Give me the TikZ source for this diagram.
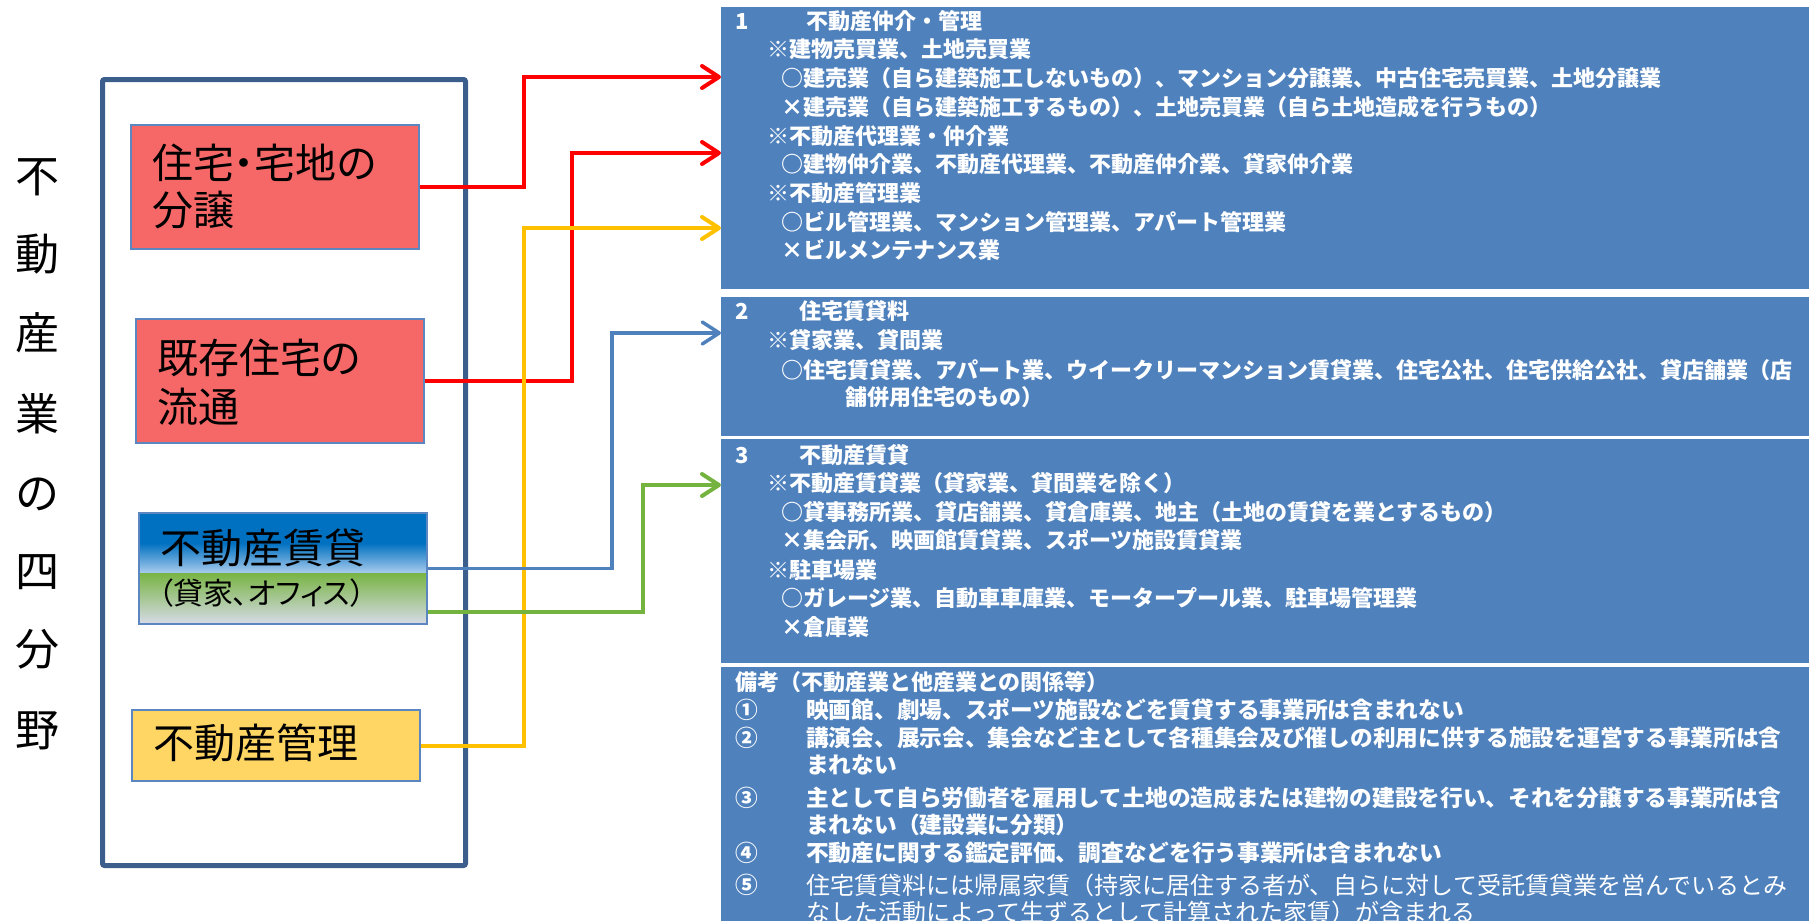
\documentclass[tikz,border=0pt]{standalone}
\usepackage{fontspec}
\setmainfont{Noto Sans CJK JP}
\newfontfamily\jpn{Noto Sans CJK JP}
\newfontfamily\jpp{Noto Sans CJK JP}[RawFeature=+palt]
\usetikzlibrary{arrows.meta}
\definecolor{panelblue}{HTML}{4F81BD}
\definecolor{framec}{HTML}{3B5E8C}
\definecolor{boxedge}{HTML}{5B86C0}
\definecolor{redfill}{RGB}{246,104,104}
\definecolor{yelfill}{RGB}{255,214,100}
\definecolor{connred}{HTML}{FF0000}
\definecolor{connyel}{HTML}{FFC000}
\definecolor{conngreen}{HTML}{74B340}
\definecolor{rentblue}{HTML}{0070C0}
\definecolor{rentlight}{HTML}{A8CCEE}
\definecolor{rentgreen}{HTML}{78B443}
\definecolor{rentgray}{HTML}{D5DAE5}
\begin{document}
\begin{tikzpicture}[x=1pt,y=-1pt,
  panel/.style={draw=none,fill=panelblue,anchor=north west,inner sep=0pt,minimum width=1088pt},
  ptxt/.style={anchor=west,inner sep=0pt,text=white,font=\jpn\bfseries\fontsize{22}{22}\selectfont,text height=19.4pt,text depth=2.6pt},
  ptxtb/.style={ptxt,font=\jpn\bfseries\fontsize{22.7}{22.7}\selectfont,text height=20pt,text depth=2.7pt},
  ptxtc/.style={ptxt,font=\jpn\fontsize{24}{24}\selectfont,text height=21.1pt,text depth=2.9pt},
  catbox/.style={draw=boxedge,line width=2pt,anchor=north west,inner sep=0pt,minimum width=288pt},
  lbl/.style={anchor=west,inner sep=0pt,text=black,font=\jpp\fontsize{41}{41}\selectfont,text height=36pt,text depth=5pt},
  sublbl/.style={anchor=west,inner sep=0pt,text=black,font=\jpp\fontsize{30}{30}\selectfont,text height=26.4pt,text depth=3.6pt},
  ttl/.style={inner sep=0pt,text=black,font=\jpn\fontsize{44}{44}\selectfont,text height=38.7pt,text depth=5.3pt},
  conn/.style={line width=4pt,-{Straight Barb[length=17pt,width=22pt,round]}},
]
\useasboundingbox (0,0) rectangle (1809,921);

% right panels
\node[panel,minimum height=282pt] (p1) at (721,7) {};
\node[panel,minimum height=139pt] (p2) at (721,297) {};
\node[panel,minimum height=224pt] (p3) at (721,439) {};
\node[panel,minimum height=254pt] (p4) at (721,667) {};

% panel 1 text
\node[ptxt] (p1a) at (735,21) {1};
\node[ptxt] (p1b) at (806,21) {不動産仲介・管理};
\node[ptxt] (p1c) at (767,49) {※建物売買業、土地売買業};
\node[ptxt] (p1d) at (781,78) {○建売業（自ら建築施工しないもの）、マンション分譲業、中古住宅売買業、土地分譲業};
\node[ptxt] (p1e) at (781,107) {×建売業（自ら建築施工するもの）、土地売買業（自ら土地造成を行うもの）};
\node[ptxt] (p1f) at (767,136) {※不動産代理業・仲介業};
\node[ptxt] (p1g) at (781,164) {○建物仲介業、不動産代理業、不動産仲介業、貸家仲介業};
\node[ptxt] (p1h) at (767,193) {※不動産管理業};
\node[ptxt] (p1i) at (781,222) {○ビル管理業、マンション管理業、アパート管理業};
\node[ptxt] (p1j) at (781,250) {×ビルメンテナンス業};

% panel 2 text
\node[ptxt] (p2a) at (735,311) {2};
\node[ptxt] (p2b) at (799,311) {住宅賃貸料};
\node[ptxt] (p2c) at (767,340) {※貸家業、貸間業};
\node[ptxt] (p2d) at (781,370) {○住宅賃貸業、アパート業、ウイークリーマンション賃貸業、住宅公社、住宅供給公社、貸店舗業（店};
\node[ptxt] (p2e) at (845,397) {舗併用住宅のもの）};

% panel 3 text
\node[ptxt] (p3a) at (735,455) {3};
\node[ptxt] (p3b) at (799,455) {不動産賃貸};
\node[ptxt] (p3c) at (767,483) {※不動産賃貸業（貸家業、貸間業を除く）};
\node[ptxt] (p3d) at (781,512) {○貸事務所業、貸店舗業、貸倉庫業、地主（土地の賃貸を業とするもの）};
\node[ptxt] (p3e) at (781,540) {×集会所、映画館賃貸業、スポーツ施設賃貸業};
\node[ptxt] (p3f) at (767,570) {※駐車場業};
\node[ptxt] (p3g) at (781,598) {○ガレージ業、自動車車庫業、モータープール業、駐車場管理業};
\node[ptxt] (p3h) at (781,627) {×倉庫業};

% panel 4 text
\node[ptxt] (p4a) at (735,682) {備考（不動産業と他産業との関係等）};
\node[ptxtb] (p4n1) at (735,710) {①};
\node[ptxtb] (p4t1) at (806,710) {映画館、劇場、スポーツ施設などを賃貸する事業所は含まれない};
\node[ptxtb] (p4n2) at (735,738) {②};
\node[ptxtb] (p4t2) at (806,738) {講演会、展示会、集会など主として各種集会及び催しの利用に供する施設を運営する事業所は含};
\node[ptxtb] (p4t2b) at (806,765) {まれない};
\node[ptxtb] (p4n3) at (735,798) {③};
\node[ptxtb] (p4t3) at (806,798) {主として自ら労働者を雇用して土地の造成または建物の建設を行い、それを分譲する事業所は含};
\node[ptxtb] (p4t3b) at (806,825) {まれない（建設業に分類）};
\node[ptxtb] (p4n4) at (735,853) {④};
\node[ptxtb] (p4t4) at (806,853) {不動産に関する鑑定評価、調査などを行う事業所は含まれない};
\node[ptxtb] (p4n5) at (735,885) {⑤};
\node[ptxtc] (p4t5) at (806,885) {住宅賃貸料には帰属家賃（持家に居住する者が、自らに対して受託賃貸業を営んでいるとみ};
\node[ptxtc] (p4t5b) at (806,912) {なした活動によって生ずるとして計算された家賃）が含まれる};

% vertical title
\foreach \c/\yy [count=\i] in {不/176,動/254,産/333,業/414,の/493,四/571,分/649,野/730}
  \node[ttl] (ttl\i) at (37,\yy) {\c};

% outer frame
\node[draw=framec,line width=5pt,rounded corners=2pt,anchor=north west,inner sep=0pt,
      minimum width=363pt,minimum height=786pt] (frame) at (100,77) {};

% category boxes
\node[catbox,fill=redfill,minimum height=124pt] (b1) at (130,124) {};
\node[lbl] (b1t1) at (152,163) {住宅・宅地の};
\node[lbl] (b1t2) at (152,210) {分譲};

\node[catbox,fill=redfill,minimum height=124pt] (b2) at (135,318) {};
\node[lbl] (b2t1) at (157,358) {既存住宅の};
\node[lbl] (b2t2) at (157,407) {流通};

\fill[rentblue] (138,512) rectangle (426,543);
\shade[top color=rentblue,bottom color=rentlight] (138,543) rectangle (426,573);
\shade[top color=rentgreen,bottom color=rentgray] (138,573) rectangle (426,623);
\node[catbox,minimum height=111pt] (b3) at (138,512) {};
\node[lbl] (b3t1) at (160,548) {不動産賃貸};
\node[sublbl] (b3t2) at (158,593) {（貸家、オフィス）};

\node[catbox,fill=yelfill,minimum height=71pt] (b4) at (131,709) {};
\node[lbl] (b4t1) at (153,743) {不動産管理};

% connector targets
\coordinate (t1) at (721,77);
\coordinate (t2) at (721,153);
\coordinate (t3) at (721,228);
\coordinate (t4) at (721,333);
\coordinate (t5) at (721,485);

% connectors
\draw[conn,connred] (b1.east) -| (524,77) -- (t1);
\draw[conn,connred] (b2.east) -| (572,153) -- (t2);
\draw[conn,connyel] (b4.east) -| (524,228) -- (t3);
\draw[conn,panelblue,line width=3.5pt] (b3.east) -| (612,333) -- (t4);
\draw[conn,conngreen] ([yshift=-43.5pt]b3.east) -| (643,485) -- (t5);
\end{tikzpicture}
\end{document}
